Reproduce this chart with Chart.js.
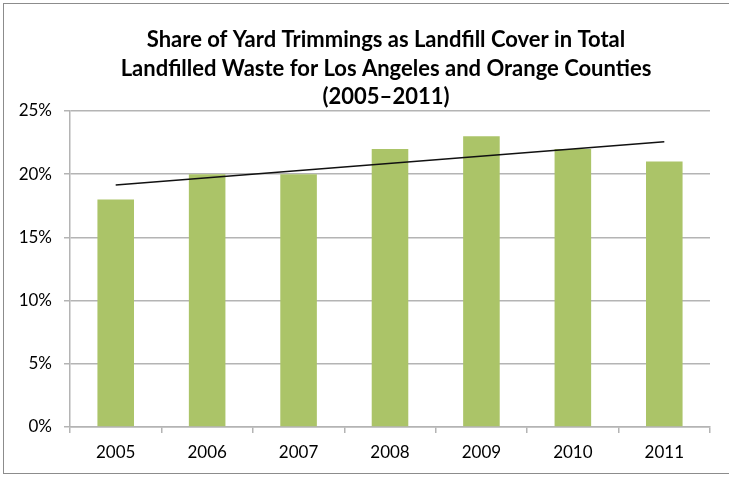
<!DOCTYPE html>
<html>
<head>
<meta charset="utf-8">
<script src="https://cdn.jsdelivr.net/npm/chart.js@4.4.1/dist/chart.umd.min.js"></script>
<style>
  html, body { margin: 0; padding: 0; background: #fff; }
  #wrap { width: 729px; height: 477px; }
</style>
</head>
<body>
<div id="wrap"><canvas id="chart" width="729" height="477"></canvas></div>
<script>
const years = ["2005", "2006", "2007", "2008", "2009", "2010", "2011"];
const sharePct = [18, 20, 20, 22, 23, 22, 21];
// trendline end values, only the first and last year are set
const trendPct = [19.15, null, null, null, null, null, 22.57];
const yTicks = [0, 5, 10, 15, 20, 25];
const titleLines = [
  "Share of Yard Trimmings as Landfill Cover in Total",
  "Landfilled Waste for Los Angeles and Orange Counties",
  "(2005\u20132011)",
];

const gridGray = "#b4b4b4";

// outer frame and the three-line heading
const framePlugin = {
  id: "frame",
  beforeDraw(chart) {
    const ctx = chart.ctx;
    ctx.save();
    ctx.fillStyle = "#fff";
    ctx.fillRect(0, 0, chart.width, chart.height);
    ctx.strokeStyle = "#8c8c8c";
    ctx.lineWidth = 1;
    ctx.strokeRect(3.5, 3.5, 760, 470);
    ctx.restore();
  },
  afterDraw(chart) {
    const ctx = chart.ctx;
    ctx.save();
    ctx.fillStyle = "#000";
    ctx.font = "bold 22px Lato";
    ctx.textAlign = "center";
    ctx.textBaseline = "middle";
    titleLines.forEach((line, i) => {
      ctx.fillText(line, 386, 40 + i * 28.5);
    });
    ctx.restore();
  },
};

const chart = new Chart(document.getElementById("chart"), {
  data: {
    labels: years,
    datasets: [
      {
        type: "line",
        label: "Trend",
        data: trendPct,
        spanGaps: true,
        borderColor: "#111",
        borderWidth: 1.5,
        pointRadius: 0,
        fill: false,
        order: 0,
      },
      {
        type: "bar",
        label: "Share",
        data: sharePct,
        backgroundColor: "rgb(171,196,104)",
        borderWidth: 0,
        barPercentage: 0.8,
        categoryPercentage: 0.5,
        order: 1,
      },
    ],
  },
  options: {
    responsive: false,
    animation: false,
    layout: { padding: { top: 111, left: 0, right: 19, bottom: 10 } },
    plugins: {
      legend: { display: false },
      title: { display: false },
      tooltip: { enabled: false },
    },
    scales: {
      x: {
        offset: true,
        grid: {
          offset: true,
          drawOnChartArea: false,
          color: gridGray,
          tickLength: 6,
          lineWidth: 1.5,
        },
        border: { color: gridGray, width: 1.5 },
        ticks: { color: "#000", font: { family: "Lato", size: 17 }, padding: 9 },
        afterFit(scale) { scale.height = 40; },
      },
      y: {
        min: 0,
        max: 25,
        afterBuildTicks(scale) {
          scale.ticks = yTicks.map((v) => ({ value: v }));
        },
        grid: { color: gridGray, tickLength: 6, lineWidth: 1.5 },
        border: { color: gridGray, width: 1.5 },
        ticks: {
          color: "#000",
          font: { family: "Lato", size: 17 },
          padding: 12,
          callback: (v) => v + "%",
        },
        afterFit(scale) { scale.width = 70; },
      },
    },
  },
  plugins: [framePlugin],
});
</script>
</body>
</html>
